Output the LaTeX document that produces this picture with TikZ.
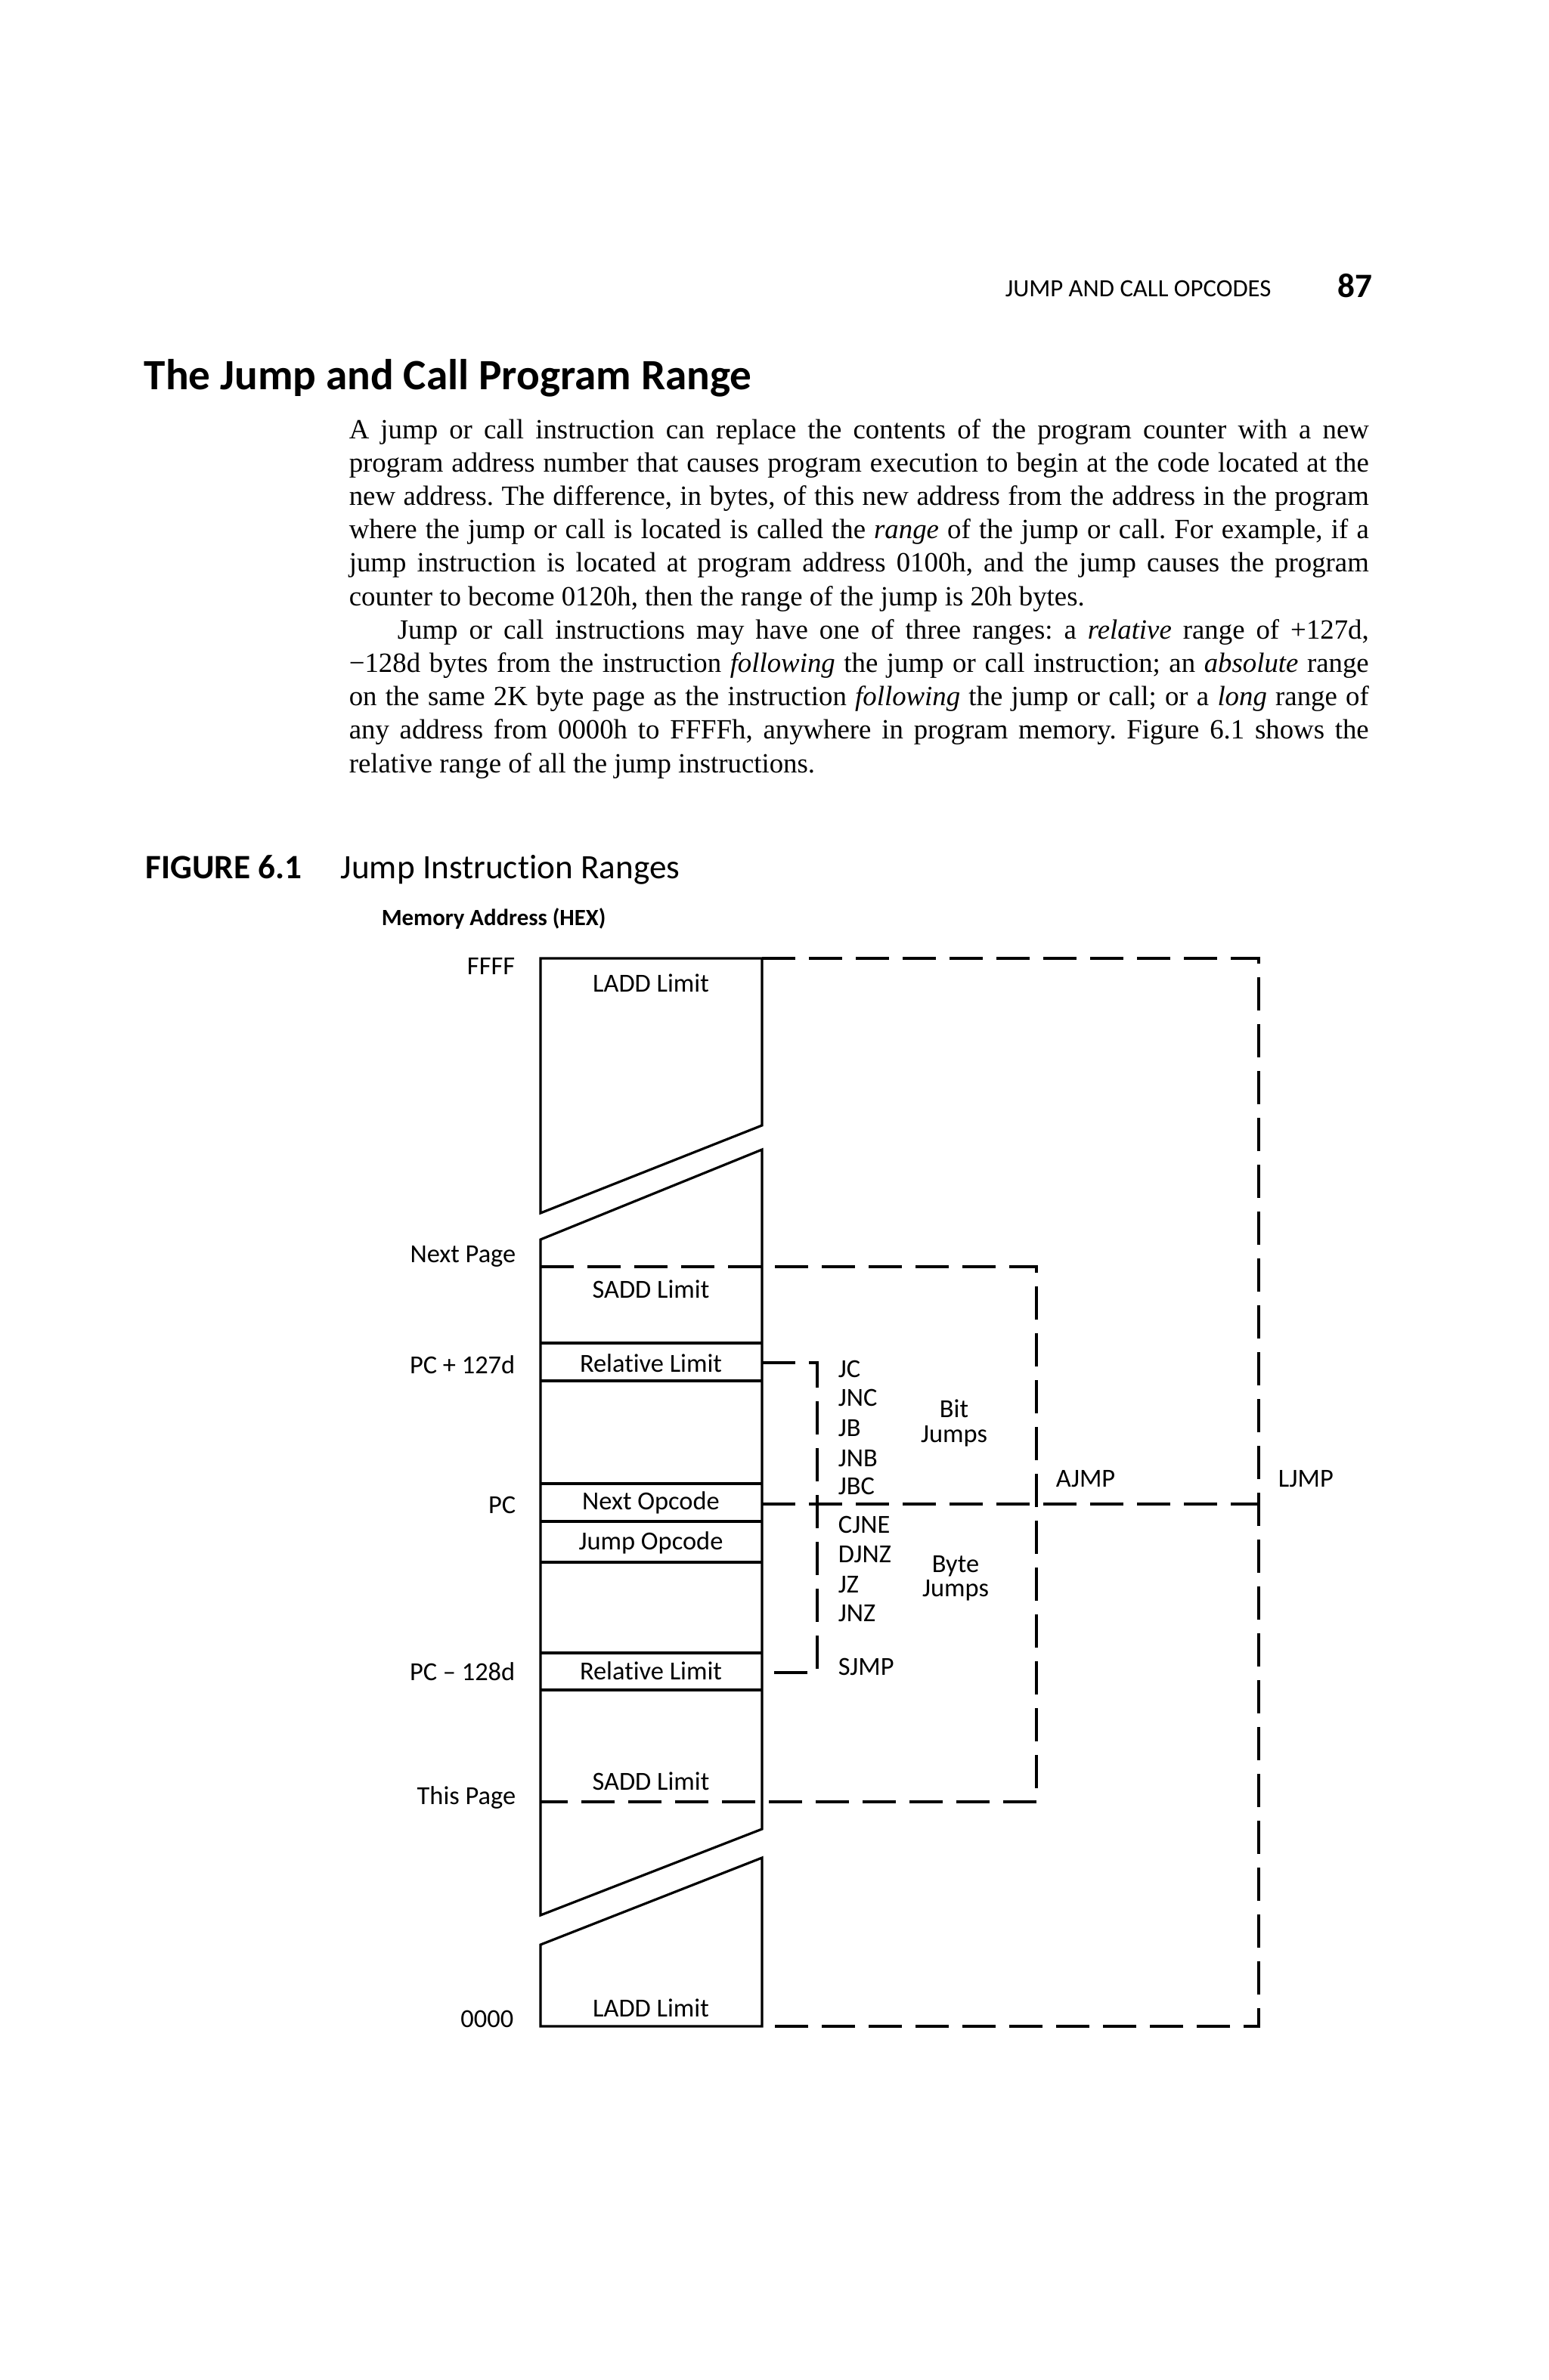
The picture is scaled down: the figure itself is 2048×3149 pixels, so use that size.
\documentclass[tikz,border=0pt]{standalone}
\usepackage{fontspec}
\setmainfont{Liberation Serif}
\newfontfamily\lab[Ligatures={TeX,NoCommon}]{Carlito}
\begin{document}
\begin{tikzpicture}[x=0.25pt,y=-0.25pt,
  boxline/.style={line width=0.8pt},
  dline/.style={line width=1.2pt, dash pattern=on 11pt off 4.5pt},
  lbl/.style={inner sep=0pt, font=\lab\fontsize{8.6}{10}\selectfont},
  txt/.style={inner sep=0pt}]
\useasboundingbox[fill=white] (0,0) rectangle (2048,3149);

% ---------- page text ----------
\node[txt, anchor=base west] (hdr) at (1329,392) {\lab\fontsize{8.2}{10}\selectfont JUMP AND CALL OPCODES};
\node[txt, anchor=base east] (pg) at (1816,393) {\lab\bfseries\fontsize{11.3}{13}\selectfont 87};
\node[txt, anchor=base west] (title) at (190,515) {\lab\bfseries\fontsize{14.3}{17}\selectfont The Jump and Call Program Range};

\node[txt, anchor=base west] (body) at (461,580) {\parbox[t]{337.25pt}{\fontsize{9.2}{11.05}\selectfont\frenchspacing\setlength{\parindent}{16pt}\noindent
A jump or call instruction can replace the contents of the program counter with a new\linebreak
program address number that causes program execution to begin at the code located at the\linebreak
new address. The difference, in bytes, of this new address from the address in the program\linebreak
where the jump or call is located is called the \textit{range} of the jump or call. For example, if a\linebreak
jump instruction is located at program address 0100h, and the jump causes the program\linebreak
counter to become 0120h, then the range of the jump is 20h bytes.\par
Jump or call instructions may have one of three ranges: a \textit{relative} range of +127d,\linebreak
−128d bytes from the instruction \textit{following} the jump or call instruction; an \textit{absolute} range\linebreak
on the same 2K byte page as the instruction \textit{following} the jump or call; or a \textit{long} range of\linebreak
any address from 0000h to FFFFh, anywhere in program memory. Figure 6.1 shows the\linebreak
relative range of all the jump instructions.}};

\node[txt, anchor=base west] (fig) at (192,1162) {\lab\bfseries\fontsize{11.3}{13}\selectfont FIGURE 6.1};
\node[txt, anchor=base west] (figt) at (450,1162) {\lab\fontsize{11.3}{13}\selectfont Jump Instruction Ranges};
\node[txt, anchor=base west] (mem) at (504,1224) {\lab\bfseries\fontsize{7.7}{9}\selectfont Memory Address (HEX)};

% ---------- memory column ----------
\draw[boxline] (715,1268) -- (715,1605) -- (1008,1489) -- (1008,1268) -- cycle;
\draw[boxline] (715,1640) -- (1008,1521) -- (1008,2420) -- (715,2534) -- cycle;
\draw[boxline] (715,2573) -- (1008,2458) -- (1008,2681) -- (715,2681) -- cycle;
\foreach \yy in {1777,1827,1963,2013,2067,2187,2236}
  \draw[boxline] (715,\yy) -- (1008,\yy);

% ---------- dashed ranges ----------
\coordinate (ljT) at (1665,1268);
\coordinate (ljB) at (1665,2681);
\coordinate (ajT) at (1371,1676);
\coordinate (ajB) at (1371,2384);
\coordinate (brT) at (1081,1803);
\coordinate (brB) at (1081,2213);
\draw[dline] (1008,1268) -- (ljT) -- (ljB) -- (1008,2681);
\draw[dline] (715,1676) -- (ajT) -- (ajB) -- (715,2384);
\draw[dline] (1008,1990) -- (1665,1990);
\draw[dline] (1008,1803) -- (brT) -- (brB) -- (1008,2213);

% ---------- address labels ----------
\node[lbl, anchor=base east] (aFFFF) at (682,1289) {FFFF};
\node[lbl, anchor=base east] (aNext) at (683,1670) {Next Page};
\node[lbl, anchor=base east] (aP127) at (682,1817) {PC + 127d};
\node[lbl, anchor=base east] (aPC) at (683,2002) {PC};
\node[lbl, anchor=base east] (aM128) at (682,2223) {PC – 128d};
\node[lbl, anchor=base east] (aThis) at (683,2387) {This Page};
\node[lbl, anchor=base east] (a0000) at (680,2682) {0000};

% ---------- box texts ----------
\node[lbl, anchor=base] (bLADDt) at (861,1312) {LADD Limit};
\node[lbl, anchor=base] (bSADDt) at (861,1717) {SADD Limit};
\node[lbl, anchor=base] (bRelt) at (861,1815) {Relative Limit};
\node[lbl, anchor=base] (bNext) at (861,1997) {Next Opcode};
\node[lbl, anchor=base] (bJump) at (861,2050) {Jump Opcode};
\node[lbl, anchor=base] (bRelb) at (861,2222) {Relative Limit};
\node[lbl, anchor=base] (bSADDb) at (861,2368) {SADD Limit};
\node[lbl, anchor=base] (bLADDb) at (861,2668) {LADD Limit};

% ---------- instructions ----------
\node[lbl, anchor=base west] (iJC) at (1108,1822) {JC};
\node[lbl, anchor=base west] (iJNC) at (1108,1860) {JNC};
\node[lbl, anchor=base west] (iJB) at (1108,1900) {JB};
\node[lbl, anchor=base west] (iJNB) at (1108,1940) {JNB};
\node[lbl, anchor=base west] (iJBC) at (1108,1977) {JBC};
\node[lbl, anchor=base west] (iCJNE) at (1108,2028) {CJNE};
\node[lbl, anchor=base west] (iDJNZ) at (1108,2067) {DJNZ};
\node[lbl, anchor=base west] (iJZ) at (1108,2107) {JZ};
\node[lbl, anchor=base west] (iJNZ) at (1108,2145) {JNZ};
\node[lbl, anchor=base west] (iSJMP) at (1108,2216) {SJMP};
\node[lbl, anchor=base] (gBit) at (1262,1875) {Bit};
\node[lbl, anchor=base] (gBitJ) at (1262,1908) {Jumps};
\node[lbl, anchor=base] (gByte) at (1264,2080) {Byte};
\node[lbl, anchor=base] (gByteJ) at (1264,2112) {Jumps};
\node[lbl, anchor=base west] (iAJMP) at (1396,1967) {AJMP};
\node[lbl, anchor=base west] (iLJMP) at (1690,1967) {LJMP};
\end{tikzpicture}
\end{document}
